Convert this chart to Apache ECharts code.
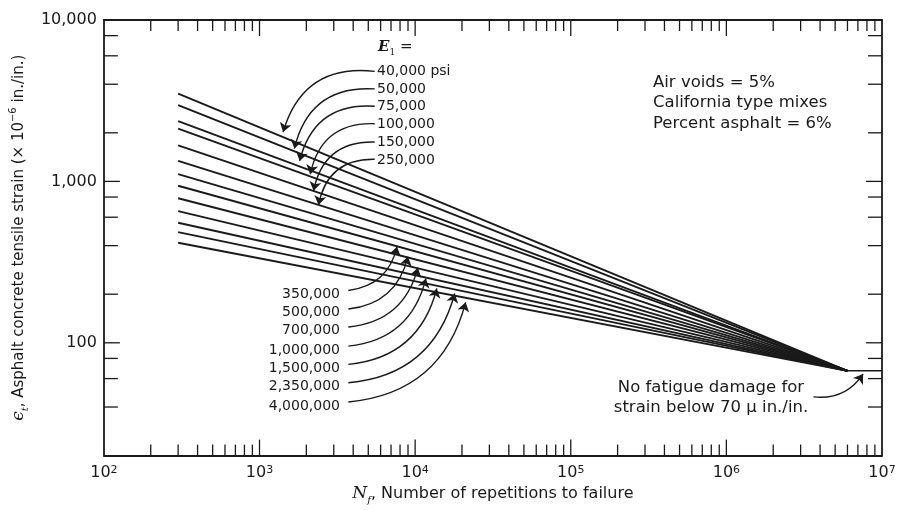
<!DOCTYPE html>
<html><head><meta charset="utf-8">
<script src="https://cdn.jsdelivr.net/npm/echarts@6/dist/echarts.min.js"></script>
<style>html,body{margin:0;padding:0;background:#fff}#c{width:902px;height:510px}</style>
</head><body><div id="c"></div>
<script>
// ---- data ----
const moduliTop = ['40,000 psi', '50,000', '75,000', '100,000', '150,000', '250,000'];
const moduliBottom = ['350,000', '500,000', '700,000', '1,000,000', '1,500,000', '2,350,000', '4,000,000'];
const startN = 300;
const strainAtStart = [3500, 2965, 2363, 2122, 1674, 1339, 1109, 940, 786, 654, 554, 485, 417];
const convergeN = 6000000;
const convergeStrain = 67;
const limitN = [6000000, 10000000];
const limitStrain = [67, 67];
const yTickLabels = {2: '100', 3: '1,000', 4: '10,000'};
// annotation arrows [tail, tip] in data units
const arrowsTop = [
  [[5500, 4803], [1417, 2021]],
  [[5500, 3741], [1675, 1597]],
  [[5500, 2923], [1811, 1339]],
  [[5500, 2278], [2120, 1109]],
  [[5500, 1754], [2226, 875]],
  [[5500, 1372], [2395, 715]]
];
const arrowsBottom = [
  [[3723, 211], [7650, 394]],
  [[3723, 161.8], [8995, 342]],
  [[3723, 125.3], [10420, 292]],
  [[3723, 95.3], [11720, 250]],
  [[3723, 73.5], [13780, 217]],
  [[3723, 56.6], [17960, 202]],
  [[3723, 43], [21110, 178]]
];
const arrowLimit = [[[3626000, 46.2], [7560000, 64]]];

// ---- chart ----
const FONT = 'DejaVu Sans';
const INK = '#1a1a1a';
const chart = echarts.init(document.getElementById('c'), null, {renderer: 'canvas'});

const xTicks = [];
for (let d = 2; d < 7; d++) for (let m = 1; m <= 9; m++) {
  if (m === 1 && d === 2) continue;
  xTicks.push([m * Math.pow(10, d), 100, m === 1 ? 1 : 0]);
}
const yTicks = [];
[[1, [4, 6, 8]], [2, [1, 2, 4, 6, 8]], [3, [1, 2, 4, 6, 8]]].forEach(([d, ms]) => {
  ms.forEach(m => yTicks.push([1000, m * Math.pow(10, d), m === 1 ? 1 : 0]));
});

const lineSeries = strainAtStart.map((s, i) => ({
  type: 'line', xAxisIndex: 0, yAxisIndex: 0, showSymbol: false, symbol: 'none', silent: true,
  data: [[startN, s], [convergeN, convergeStrain]],
  lineStyle: {color: INK, width: 1.9}, z: 3
}));
lineSeries.push({
  type: 'line', showSymbol: false, symbol: 'none', silent: true,
  data: limitN.map((n, i) => [n, limitStrain[i]]),
  lineStyle: {color: INK, width: 1.5}, z: 3
});

function arrowSeries(list, curv) {
  return {
    type: 'lines', coordinateSystem: 'cartesian2d', xAxisIndex: 0, yAxisIndex: 0,
    polyline: false, silent: true, symbol: ['none', 'arrow'], symbolSize: [6, 9],
    lineStyle: {color: INK, width: 1.4, curveness: curv, opacity: 1},
    data: list.map(a => ({coords: a})), z: 4
  };
}

function tickRender(isX) {
  return function (params, api) {
    const cs = params.coordSys;
    const major = api.value(2) === 1;
    const st = {stroke: INK, lineWidth: 1.3};
    if (isX) {
      const x = api.coord([api.value(0), 100])[0];
      const L = major ? 16 : 11;
      return {type: 'group', children: [
        {type: 'line', shape: {x1: x, y1: cs.y + cs.height, x2: x, y2: cs.y + cs.height - L}, style: st},
        {type: 'line', shape: {x1: x, y1: cs.y, x2: x, y2: cs.y + L}, style: st}
      ]};
    } else {
      const y = api.coord([1000, api.value(1)])[1];
      const L = major ? 16 : 14;
      return {type: 'group', children: [
        {type: 'line', shape: {x1: cs.x, y1: y, x2: cs.x + L, y2: y}, style: st},
        {type: 'line', shape: {x1: cs.x + cs.width, y1: y, x2: cs.x + cs.width - L, y2: y}, style: st}
      ]};
    }
  };
}

const axisLineStyle = {show: true, lineStyle: {color: INK, width: 1.8}};
const option = {
  animation: false,
  backgroundColor: '#fff',
  grid: {left: 99, right: 20, top: 20, bottom: 52, containLabel: false},
  xAxis: [{
    type: 'log', logBase: 10, min: 100, max: 10000000, position: 'bottom',
    axisLine: axisLineStyle, axisTick: {show: false}, splitLine: {show: false}, minorTick: {show: false},
    axisLabel: {
      margin: 9, color: INK, fontFamily: FONT,
      formatter: v => {
        const e = Math.round(Math.log10(v));
        if (Math.abs(Math.log10(v) - e) > 1e-6) return '';
        return '{a|10}{b|' + e + '}';
      },
      rich: {a: {fontSize: 16, fontFamily: FONT, color: INK}, b: {fontSize: 11, fontFamily: FONT, color: INK, verticalAlign: 'top', lineHeight: 16}}
    },
    name: '{n|N}{f|f}{t|, Number of repetitions to failure}',
    nameLocation: 'middle', nameGap: 27,
    nameTextStyle: {
      rich: {
        n: {fontFamily: 'DejaVu Serif', fontStyle: 'italic', fontSize: 17, color: INK},
        f: {fontFamily: 'DejaVu Serif', fontStyle: 'italic', fontSize: 10, color: INK, verticalAlign: 'bottom', lineHeight: 22},
        t: {fontFamily: FONT, fontSize: 16, color: INK}
      }
    }
  }, {
    type: 'log', logBase: 10, min: 100, max: 10000000, position: 'top',
    axisLine: axisLineStyle, axisTick: {show: false}, axisLabel: {show: false}, splitLine: {show: false}
  }],
  yAxis: [{
    type: 'log', logBase: 10, min: 20, max: 10000, position: 'left',
    axisLine: axisLineStyle, axisTick: {show: false}, splitLine: {show: false}, minorTick: {show: false},
    axisLabel: {
      margin: 7, color: INK, fontFamily: FONT, fontSize: 16,
      formatter: v => {
        const e = Math.round(Math.log10(v));
        if (Math.abs(Math.log10(v) - e) > 1e-6) return '';
        return yTickLabels[e] || '';
      }
    },
    name: '{e|ϵ}{t|t}{r|, Asphalt concrete tensile strain (× 10}{s|−6}{r| in./in.)}',
    nameLocation: 'middle', nameGap: 60, nameRotate: 90,
    nameTextStyle: {
      rich: {
        e: {fontFamily: 'DejaVu Serif', fontStyle: 'italic', fontSize: 17, color: INK},
        t: {fontFamily: 'DejaVu Serif', fontStyle: 'italic', fontSize: 10, color: INK, verticalAlign: 'bottom', lineHeight: 22},
        r: {fontFamily: FONT, fontSize: 15, color: INK},
        s: {fontFamily: FONT, fontSize: 10, color: INK, verticalAlign: 'top', lineHeight: 22}
      }
    }
  }, {
    type: 'log', logBase: 10, min: 20, max: 10000, position: 'right',
    axisLine: axisLineStyle, axisTick: {show: false}, axisLabel: {show: false}, splitLine: {show: false}
  }],
  series: [
    ...lineSeries,
    arrowSeries(arrowsTop, -0.42),
    arrowSeries(arrowsBottom, -0.35),
    arrowSeries(arrowLimit, -0.3),
    {type: 'custom', coordinateSystem: 'cartesian2d', xAxisIndex: 0, yAxisIndex: 0, silent: true, clip: false,
     encode: {x: 0, y: 1}, data: xTicks, renderItem: tickRender(true), z: 5},
    {type: 'custom', coordinateSystem: 'cartesian2d', xAxisIndex: 0, yAxisIndex: 0, silent: true, clip: false,
     encode: {x: 0, y: 1}, data: yTicks, renderItem: tickRender(false), z: 5}
  ],
  graphic: [
    {type: 'text', left: 378, top: 40, silent: true,
     style: {text: '{e|E}{s|1}{q| =}', rich: {
       e: {fontFamily: 'DejaVu Serif', fontStyle: 'italic', fontWeight: 'bold', fontSize: 15, fill: INK},
       s: {fontFamily: 'DejaVu Serif', fontSize: 9, fill: INK, verticalAlign: 'bottom', lineHeight: 20},
       q: {fontFamily: FONT, fontSize: 15, fill: INK}}}},
    ...moduliTop.map((t, i) => ({type: 'text', x: 377, y: [71.7, 89.3, 106.7, 124.3, 142.7, 160][i], silent: true,
      style: {text: t, fontFamily: FONT, fontSize: 14, fill: INK, align: 'left', verticalAlign: 'middle'}})),
    ...moduliBottom.map((t, i) => ({type: 'text', x: 340, y: [294, 312.7, 330.7, 350, 368.3, 386.7, 406][i], silent: true,
      style: {text: t, fontFamily: FONT, fontSize: 14, fill: INK, align: 'right', verticalAlign: 'middle'}})),
    {type: 'text', x: 653, y: 72, silent: true,
     style: {text: 'Air voids = 5%\nCalifornia type mixes\nPercent asphalt = 6%', fontFamily: FONT, fontSize: 16.5, lineHeight: 20.5, fill: INK, align: 'left', verticalAlign: 'top'}},
    {type: 'text', x: 711, y: 378, silent: true,
     style: {text: 'No fatigue damage for\nstrain below 70 μ in./in.', fontFamily: FONT, fontSize: 16.5, lineHeight: 20, fill: INK, align: 'center', verticalAlign: 'top'}}
  ]
};
chart.setOption(option);
</script></body></html>
